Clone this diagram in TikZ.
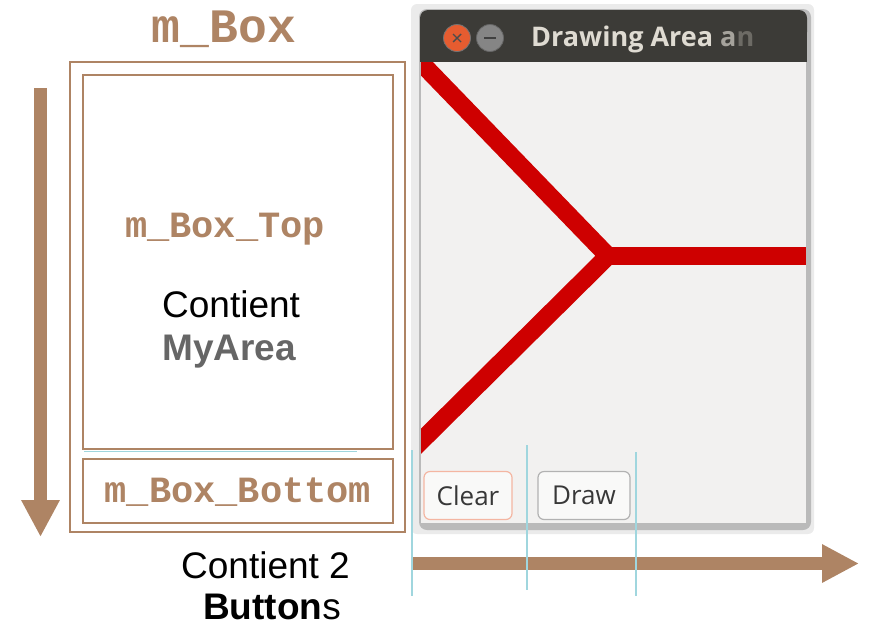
\documentclass[tikz,border=0pt]{standalone}
\usepackage{fontspec}
\setmainfont{Liberation Sans}
\newfontfamily\monofont{Liberation Mono}
\newfontfamily\uifont{Open Sans}
\usepackage{tikz}
\usetikzlibrary{arrows.meta,positioning}
\definecolor{boxbrown}{RGB}{174,132,100}
\definecolor{guidecyan}{RGB}{160,214,222}
\definecolor{titlegray}{RGB}{60,59,55}
\definecolor{titletext}{RGB}{223,219,210}
\definecolor{areagray}{RGB}{242,241,240}
\definecolor{linered}{RGB}{206,0,0}
\definecolor{closeorange}{RGB}{230,92,48}
\definecolor{labelgray}{RGB}{102,102,102}

\begin{document}
\begin{tikzpicture}[
      x=1pt, y=-1pt,
      box/.style={rectangle, draw=boxbrown, line width=2pt, inner sep=0pt},
      monolbl/.style={text=boxbrown, inner sep=0pt, anchor=base,
                      font=\monofont\bfseries\fontsize{37}{40}\selectfont},
      plainlbl/.style={inner sep=0pt, anchor=base,
                       font=\fontsize{37}{42}\selectfont},
      guide/.style={draw=guidecyan, line width=1.2pt},
      btn/.style={rectangle, rounded corners=6pt, fill=white!55!areagray,
                  line width=1.2pt, minimum height=48pt, inner sep=0pt,
                  font=\uifont\fontsize{26}{30}\selectfont, text=black!78},
      bigarrow/.style={draw=boxbrown, line width=13pt,
                       -{Triangle[length=37pt, width=36pt]}}
    ]
      \useasboundingbox (0,0) rectangle (869,627);

      %% left: the box layout
      \node[box, minimum width=335pt, minimum height=470pt] (mbox) at (237.5,297) {};
      \node[box, minimum width=310pt, minimum height=374pt] (boxtop) at (238,262) {};
      \node[box, minimum width=310pt, minimum height=64pt] (boxbottom) at (238,491) {};
      \draw[guide, line width=1pt] (84,451.5) -- (357,451.5);

      \node[monolbl, font=\monofont\bfseries\fontsize{48}{52}\selectfont]
          (mboxlbl) at (224,42) {m\_Box};
      \node[monolbl] (toplbl) at (225,237) {m\_Box\_Top};
      \node[monolbl] (bottomlbl) at (238,502) {m\_Box\_Bottom};

      \node[plainlbl, anchor=base west] (contient) at (162,317) {Contient};
      \node[plainlbl, anchor=base west, text=labelgray, font=\bfseries\fontsize{37}{42}\selectfont]
          (myarea) at (162,360) {MyArea};
      \node[plainlbl] (contient2) at (265.5,578) {Contient 2};
      \node[plainlbl] (buttons) at (272,619) {\textbf{Button}s};

      %% vertical and horizontal packing arrows
      \coordinate (vstart) at (40.5,88);
      \coordinate (vend) at (40.5,537);
      \draw[bigarrow] (vstart) -- (vend);
      \coordinate (hstart) at (412,563.5);
      \coordinate (hend) at (859,563.5);
      \draw[bigarrow] (hstart) -- (hend);

      %% right: the window
      \fill[black!8, rounded corners=6pt] (411,4) rectangle (814,534);
      \fill[black!27, rounded corners=8pt] (419,9) rectangle (811,530);
      \fill[titlegray, rounded corners=8pt] (420,10) rectangle (807,40);
      \fill[titlegray] (420,30) rectangle (807,62);
      \fill[areagray] (421,62) rectangle (806,523);

      \node[circle, fill=closeorange, draw=black!55, line width=0.8pt,
            minimum size=27pt, inner sep=0pt] (closebtn) at (457,38) {};
      \draw[black!70, line width=1.4pt]
          ([shift={(-4,-4)}]closebtn.center) -- ([shift={(4,4)}]closebtn.center)
          ([shift={(-4,4)}]closebtn.center) -- ([shift={(4,-4)}]closebtn.center);
      \node[circle, fill=black!48, draw=black!60, line width=0.8pt,
            minimum size=27pt, inner sep=0pt] (minbtn) at (490,38) {};
      \draw[black!75, line width=1.4pt]
          ([xshift=-6pt]minbtn.center) -- ([xshift=6pt]minbtn.center);
      \node[inner sep=0pt, anchor=base west, text=titletext,
            font=\uifont\bfseries\fontsize{27}{30}\selectfont]
          (wintitle) at (531,46) {Drawing Area {\color{titletext!65!titlegray}a}{\color{titletext!30!titlegray}n}};

      %% the red drawing, clipped to the area
      \begin{scope}
        \clip (421,62) rectangle (806,523);
        \draw[linered, line width=18pt, line join=miter]
            (400,41) -- (608,256) -- (400,462);
        \draw[linered, line width=18pt] (608,256) -- (806,256);
      \end{scope}

      \node[btn, draw=closeorange!45, minimum width=88pt] (btnclear) at (468,495.5) {Clear};
      \node[btn, draw=black!30, minimum width=92pt] (btndraw) at (584,495.5) {Draw};

      %% guide lines
      \draw[guide] (412,450) -- (412,596);
      \draw[guide] (527,445) -- (527,590);
      \draw[guide] (636,452) -- (636,596);
    \end{tikzpicture}
\end{document}
